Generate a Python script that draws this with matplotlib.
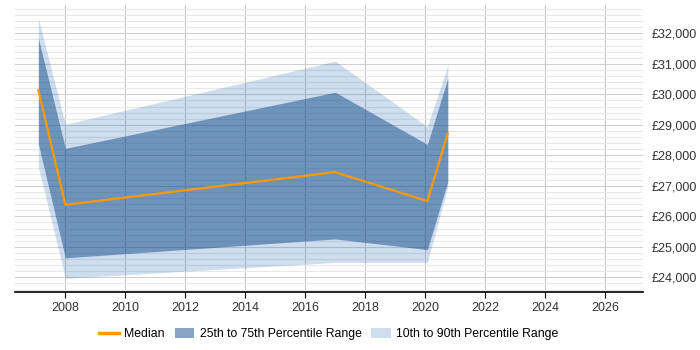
import matplotlib
matplotlib.use("Agg")
import matplotlib.pyplot as plt
from matplotlib.patches import Patch
from matplotlib.lines import Line2D
from matplotlib.ticker import MultipleLocator, FuncFormatter

plt.rcParams['font.family'] = ['Liberation Sans', 'DejaVu Sans']

# values
years  = [2007.1, 2008.0, 2017.0, 2020.07, 2020.75]
median = [30140, 26380, 27450, 26500, 28720]
p25    = [28370, 24640, 25260, 24910, 27140]
p75    = [31840, 28230, 30070, 28360, 30530]
p10    = [27630, 23970, 24490, 24490, 26970]
p90    = [32490, 29020, 31090, 28940, 30960]

c_med = '#ff9900'
c_iqr = '#114b8b'   # drawn at alpha .5
c_dec = '#0f5aaa'   # drawn at alpha .2

fig = plt.figure(figsize=(7, 3.5), dpi=100)
ax = fig.add_axes([0.0214, 0.1657, 0.8972, 0.82])

ax.fill_between(years, p10, p90, color=c_dec, alpha=0.2, lw=0, zorder=2)
ax.fill_between(years, p25, p75, color=c_iqr, alpha=0.5, lw=0, zorder=3)
ax.plot(years, median, color=c_med, lw=1.6, zorder=4)

ax.set_xlim(2006.32, 2027.26)
ax.set_ylim(23520, 32930)

ax.xaxis.set_major_locator(MultipleLocator(2))
ax.yaxis.set_major_locator(MultipleLocator(1000))
ax.yaxis.set_minor_locator(MultipleLocator(200))
ax.yaxis.set_major_formatter(FuncFormatter(lambda v, p: '£{:,.0f}'.format(v)))

ax.grid(axis='x', which='major', color='#c8c8c8', lw=0.8, zorder=1)
ax.grid(axis='y', which='major', color='#d0d0d0', lw=0.8, zorder=1)
ax.grid(axis='y', which='minor', color='#e8e8e8', lw=0.8, zorder=1)

ax.yaxis.tick_right()
ax.tick_params(axis='y', which='both', length=0, pad=6, labelsize=9, colors='#333333')
ax.tick_params(axis='x', length=4, width=0.8, labelsize=9, colors='black', labelcolor='#333333')

for s in ['left', 'right', 'top']:
    ax.spines[s].set_visible(False)
ax.spines['bottom'].set_linewidth(1.2)

handles = [Line2D([0], [0], color=c_med, lw=2.5),
           Patch(facecolor=c_iqr, alpha=0.5, edgecolor='none'),
           Patch(facecolor=c_dec, alpha=0.2, edgecolor='none')]
labels = ['Median', '25th to 75th Percentile Range', '10th to 90th Percentile Range']
fig.legend(handles, labels, loc='center', bbox_to_anchor=(0.47, 0.045), ncol=3,
           frameon=False, fontsize=8.8, handlelength=1.6, handleheight=0.9,
           columnspacing=0.8, handletextpad=0.45)

fig.savefig('out.png', dpi=100)
